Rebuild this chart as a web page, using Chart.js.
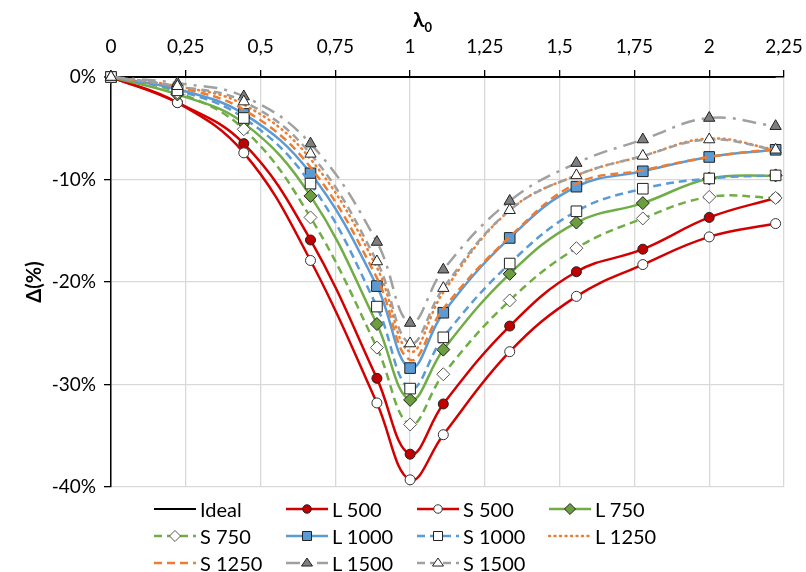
<!DOCTYPE html>
<html>
<head>
<meta charset="utf-8">
<script src="https://cdn.jsdelivr.net/npm/chart.js@4/dist/chart.umd.min.js"></script>
<style>
  body { margin: 0; background: #fff; }
  #wrap { position: relative; width: 806px; height: 572px; font-family: Lato, "Open Sans", sans-serif; }
  #xtitle { position: absolute; left: 413px; top: 6px; font-weight: bold; font-size: 21px; color: #000; }
  #xtitle sub { font-size: 13px; }
  .item { position: absolute; display: flex; align-items: center; height: 24px; font-size: 20px; color: #000; white-space: nowrap; }
  .item canvas { margin-right: 3px; }
</style>
</head>
<body>
<div id="wrap">
  <canvas id="myChart" width="806" height="572"></canvas>
  <div id="xtitle">λ<sub>0</sub></div>
  <div id="legend"></div>
</div>
<script>
// data (Δ in %)
const lambda = [0, 0.222, 0.444, 0.667, 0.889, 1, 1.111, 1.333, 1.556, 1.778, 2, 2.222];
const ideal = [0, 0, 0, 0, 0, 0, 0, 0, 0, 0, 0, 0];
const L500  = [0, -2.5, -6.5, -15.9, -29.4, -36.8, -31.9, -24.3, -19.0, -16.8, -13.7, -11.8];
const S500  = [0, -2.5, -7.4, -17.9, -31.8, -39.3, -34.9, -26.8, -21.4, -18.3, -15.6, -14.3];
const L750  = [0, -1.7, -4.5, -11.6, -24.1, -31.5, -26.6, -19.2, -14.2, -12.3, -9.9, -9.6];
const S750  = [0, -1.5, -5.1, -13.7, -26.4, -33.9, -29.0, -21.8, -16.7, -13.8, -11.7, -11.8];
const L1000 = [0, -1.2, -3.6, -9.4, -20.4, -28.4, -23.0, -15.7, -10.7, -9.2, -7.8, -7.1];
const S1000 = [0, -1.3, -4.0, -10.4, -22.4, -30.4, -25.4, -18.2, -13.1, -10.9, -9.9, -9.6];
const L1250 = [0, -0.9, -2.7, -8.0, -18.6, -26.8, -21.0, -13.0, -9.6, -7.7, -6.0, -7.1];
const S1250 = [0, -1.0, -3.2, -8.8, -19.6, -27.6, -22.6, -15.6, -10.4, -9.1, -7.8, -7.0];
const L1500 = [0, -0.6, -1.9, -6.5, -16.1, -24.0, -18.8, -12.1, -8.4, -6.1, -4.0, -4.8];
const S1500 = [0, -0.9, -2.4, -7.5, -18.0, -26.0, -20.6, -13.0, -9.6, -7.7, -6.1, -7.1];

const xTicks = [0, 0.25, 0.5, 0.75, 1, 1.25, 1.5, 1.75, 2, 2.25];
const yTicks = [0, -10, -20, -30, -40];

const red = "#d40000", green = "#70ad47", blue = "#5b9bd5", orange = "#ed7d31", gray = "#a0a0a0";

function mk(label, values, color, dash, style, fill, radius, edge) {
  return {
    label: label,
    data: lambda.map((x, i) => ({ x: x, y: values[i] })),
    borderColor: color,
    borderWidth: label === "Ideal" ? 2 : 2.5,
    borderDash: dash,
    borderCapStyle: dash.length === 2 && dash[0] < 2 ? "round" : "butt",
    tension: 0.4,
    fill: false,
    clip: false,
    pointStyle: style || "circle",
    pointRadius: style ? radius : 0,
    pointBackgroundColor: fill,
    pointBorderColor: edge || "#222",
    pointBorderWidth: 1,
    _fill: fill, _style: style, _r: radius, _edge: edge || "#222",
  };
}

const datasets = [
  mk("Ideal", ideal, "#000", [], null),
  mk("L 500", L500, red, [], "circle", "#c00000", 5),
  mk("S 500", S500, red, [], "circle", "#fff", 5, "#333"),
  mk("L 750", L750, green, [], "rectRot", "#6a9e3f", 6.5),
  mk("S 750", S750, green, [8, 5], "rectRot", "#fff", 6.5, "#555"),
  mk("L 1000", L1000, blue, [], "rect", "#5b9bd5", 7.5),
  mk("S 1000", S1000, blue, [8, 5], "rect", "#fff", 7.5),
  mk("L 1250", L1250, orange, [1, 4.5], null),
  mk("S 1250", S1250, orange, [8, 5], null),
  mk("L 1500", L1500, gray, [14, 7, 3, 7], "triangle", "#7f7f7f", 6.5),
  mk("S 1500", S1500, gray, [8, 5], "triangle", "#fff", 6.5),
];
datasets.forEach((d, i) => { d.order = -i; });

const font = { family: "Lato, 'Open Sans', sans-serif", size: 19 };

const config = {
  type: "line",
  data: { datasets: datasets },
  options: {
    responsive: false,
    animation: false,
    layout: { padding: { left: 0, right: 22, top: 0, bottom: 85 } },
    plugins: { legend: { display: false }, tooltip: { enabled: false } },
    scales: {
      x: {
        type: "linear",
        position: "top",
        min: 0,
        max: 2.25,
        afterBuildTicks: (s) => { s.ticks = xTicks.map((v) => ({ value: v })); },
        ticks: {
          color: "#000",
          font: font,
          padding: 12,
          maxRotation: 0,
          callback: (v) => String(v).replace(".", ","),
        },
        grid: { color: "#d9d9d9", lineWidth: 1.3, tickColor: "#000", tickLength: 7 },
        border: { color: "#000", width: 1.5 },
        afterFit: (s) => { s.height = 77; s.paddingLeft = 0; s.paddingRight = 0; },
      },
      y: {
        min: -40,
        max: 0,
        afterBuildTicks: (s) => { s.ticks = yTicks.map((v) => ({ value: v })); },
        ticks: { color: "#000", font: font, padding: 8, callback: (v) => v + "%" },
        grid: { color: "#d9d9d9", lineWidth: 1.3, tickColor: "#000", tickLength: 7 },
        border: { color: "#000", width: 1.5 },
        title: {
          display: true,
          text: "Δ(%)",
          color: "#000",
          font: { family: font.family, size: 20, weight: "bold" },
          padding: { top: 23, bottom: 0 },
        },
        afterFit: (s) => { s.width = 111; s.paddingTop = 0; s.paddingBottom = 0; },
      },
    },
  },
};

const myChart = new Chart(document.getElementById("myChart"), config);

// legend laid out as a grid like the spreadsheet one
function drawMarker(ctx, style, x, y, r) {
  ctx.beginPath();
  if (style === "circle") {
    ctx.arc(x, y, r, 0, Math.PI * 2);
  } else if (style === "rect") {
    const h = r * Math.SQRT1_2;
    ctx.rect(x - h, y - h, 2 * h, 2 * h);
  } else if (style === "rectRot") {
    ctx.moveTo(x - r, y); ctx.lineTo(x, y - r); ctx.lineTo(x + r, y); ctx.lineTo(x, y + r); ctx.closePath();
  } else if (style === "triangle") {
    const s = r * 1.5 / Math.sqrt(3) * 1.15;
    ctx.moveTo(x - s, y + r * 0.55); ctx.lineTo(x, y - r * 0.9); ctx.lineTo(x + s, y + r * 0.55); ctx.closePath();
  }
  ctx.fill();
  ctx.stroke();
}

const colX = [153, 285, 416, 548];
const rowY = [497, 524, 551];
const legend = document.getElementById("legend");
datasets.forEach((d, i) => {
  const item = document.createElement("div");
  item.className = "item";
  item.style.left = colX[i % 4] + "px";
  item.style.top = rowY[Math.floor(i / 4)] + "px";
  const c = document.createElement("canvas");
  c.width = 44; c.height = 18;
  const ctx = c.getContext("2d");
  ctx.strokeStyle = d.borderColor;
  ctx.lineWidth = d.borderWidth;
  ctx.setLineDash(d.borderDash);
  ctx.lineCap = d.borderCapStyle;
  ctx.beginPath(); ctx.moveTo(1, 9); ctx.lineTo(43, 9); ctx.stroke();
  if (d._style) {
    ctx.setLineDash([]);
    ctx.fillStyle = d._fill;
    ctx.strokeStyle = d._edge;
    ctx.lineWidth = 1;
    drawMarker(ctx, d._style, 22, 9, d._r * 0.85);
  }
  const t = document.createElement("span");
  t.textContent = d.label;
  item.appendChild(c);
  item.appendChild(t);
  legend.appendChild(item);
});
</script>
</body>
</html>
